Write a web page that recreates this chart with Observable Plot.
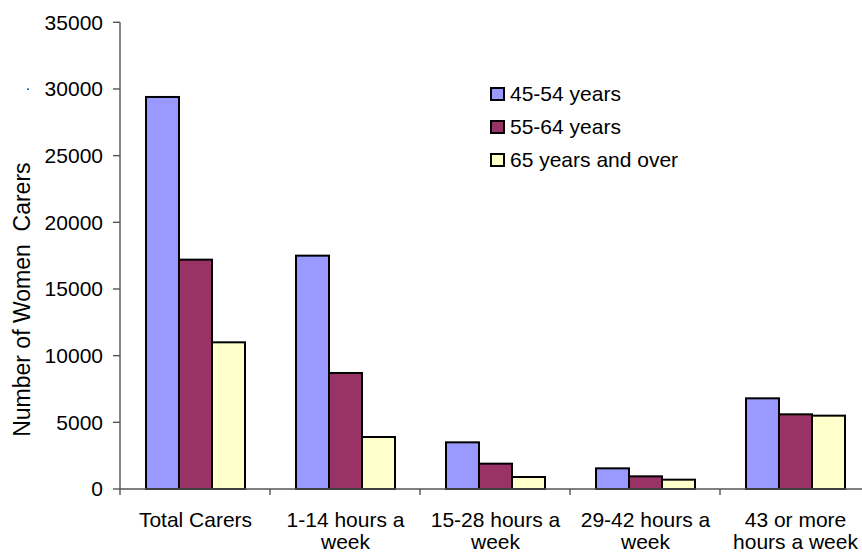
<!DOCTYPE html>
<html><head><meta charset="utf-8">
<script src="https://cdn.jsdelivr.net/npm/d3@7"></script>
<script src="https://cdn.jsdelivr.net/npm/@observablehq/plot@0.6"></script>
<style>
body{margin:0;background:#fff;}
#wrap{position:relative;width:862px;height:554px;overflow:hidden;font-family:Arial,"Liberation Sans",sans-serif;}
#legend{position:absolute;left:490px;top:77px;font-size:21px;color:#000;}
.row{display:flex;align-items:center;height:33.3px;}
.sw{width:11px;height:10px;border:2px solid #000;margin-right:5px;}
</style></head><body><div id="wrap"><div id="legend"></div></div>
<script>
const categories = ["Total Carers","1-14 hours a week","15-28 hours a week","29-42 hours a week","43 or more hours a week"];
const tickLabels = ["Total Carers","1-14 hours a\nweek","15-28 hours a\nweek","29-42 hours a\nweek","43 or more\nhours a week"];
const series = ["45-54 years","55-64 years","65 years and over"];
const values4554 = [29400,17500,3500,1550,6800];
const values5564 = [17200,8700,1900,950,5600];
const values65 = [11000,3900,900,700,5500];
const colors = ["#9999ff","#993366","#ffffcc"];
const yTicks = [0,5000,10000,15000,20000,25000,30000,35000];
const yTitle = "Number of Women  Carers";

const seriesValues = [values4554, values5564, values65];
const table = [];
categories.forEach((c, i) => series.forEach((s, j) => table.push({cat: c, series: s, value: seriesValues[j][i]})));

const font = "Arial, 'Liberation Sans', sans-serif";
const chart = Plot.plot({
  width: 862, height: 554,
  marginLeft: 120, marginRight: 0, marginTop: 22.3, marginBottom: 65,
  style: {fontFamily: font, fontSize: "21px", background: "white", color: "black", overflow: "visible"},
  facet: {data: table, x: "cat"},
  fx: {domain: categories, range: [120, 870], paddingInner: 1/3, paddingOuter: 1/6, axis: null, label: null},
  x: {domain: series, padding: 0, axis: null},
  y: {domain: [0, 35000], axis: null},
  color: {domain: series, range: colors},
  marks: [
    Plot.barY(table, {x: "series", y: "value", fill: "series", stroke: "black", strokeWidth: 2}),
    Plot.text(table, {filter: d => d.series === series[0], text: d => tickLabels[categories.indexOf(d.cat)],
      frameAnchor: "bottom", lineAnchor: "top", dy: 21, lineHeight: 1.08, fontSize: 21, fill: "black"})
  ]
});
document.getElementById("wrap").appendChild(chart);

// axes drawn from Plot's own scales
const svg = d3.select(chart.tagName.toLowerCase() === "svg" ? chart : chart.querySelector("svg"));
const ys = chart.scale("y");
const yf = ys.apply ? (v => ys.apply(v)) : d3.scaleLinear(ys.domain, ys.range);
const fxs = chart.scale("fx");
const band = d3.scaleBand(fxs.domain, fxs.range).paddingInner(fxs.paddingInner ?? 1/3).paddingOuter(fxs.paddingOuter ?? 1/6);
const step = band.step(), gap = (step - band.bandwidth()) / 2;
const bounds = categories.map(c => band(c) - gap).concat([band(categories[categories.length-1]) + band.bandwidth() + gap]);
const x0 = bounds[0];
const ax = svg.append("g").attr("stroke", "#555").attr("stroke-width", 1.4);
ax.append("line").attr("x1", x0).attr("x2", x0).attr("y1", yf(35000)).attr("y2", yf(0) + 6);
ax.append("line").attr("x1", x0).attr("x2", bounds[bounds.length-1]).attr("y1", yf(0)).attr("y2", yf(0));
yTicks.forEach(t => ax.append("line").attr("x1", x0 - 7).attr("x2", x0).attr("y1", yf(t)).attr("y2", yf(t)));
bounds.slice(1).forEach(b => ax.append("line").attr("x1", b).attr("x2", b).attr("y1", yf(0)).attr("y2", yf(0) + 6));
const lab = svg.append("g").attr("font-family", font).attr("font-size", 21).attr("fill", "black");
yTicks.forEach(t => lab.append("text").attr("x", x0 - 17).attr("y", yf(t)).attr("dy", "0.35em").attr("text-anchor", "end").text(t));
lab.append("text").attr("transform", `translate(22,${yf(14200)}) rotate(-90)`).attr("text-anchor", "middle").attr("dy", "0.35em").attr("font-size", 23).text(yTitle);
lab.append("text").attr("x", 28).attr("y", yf(30000) + 1).attr("text-anchor", "middle").attr("font-size", 14).text(".");

// legend
const lg = d3.select("#legend");
series.forEach((s, i) => {
  const r = lg.append("div").attr("class", "row");
  r.append("div").attr("class", "sw").style("background", colors[i]);
  r.append("span").text(s);
});
</script></body></html>
